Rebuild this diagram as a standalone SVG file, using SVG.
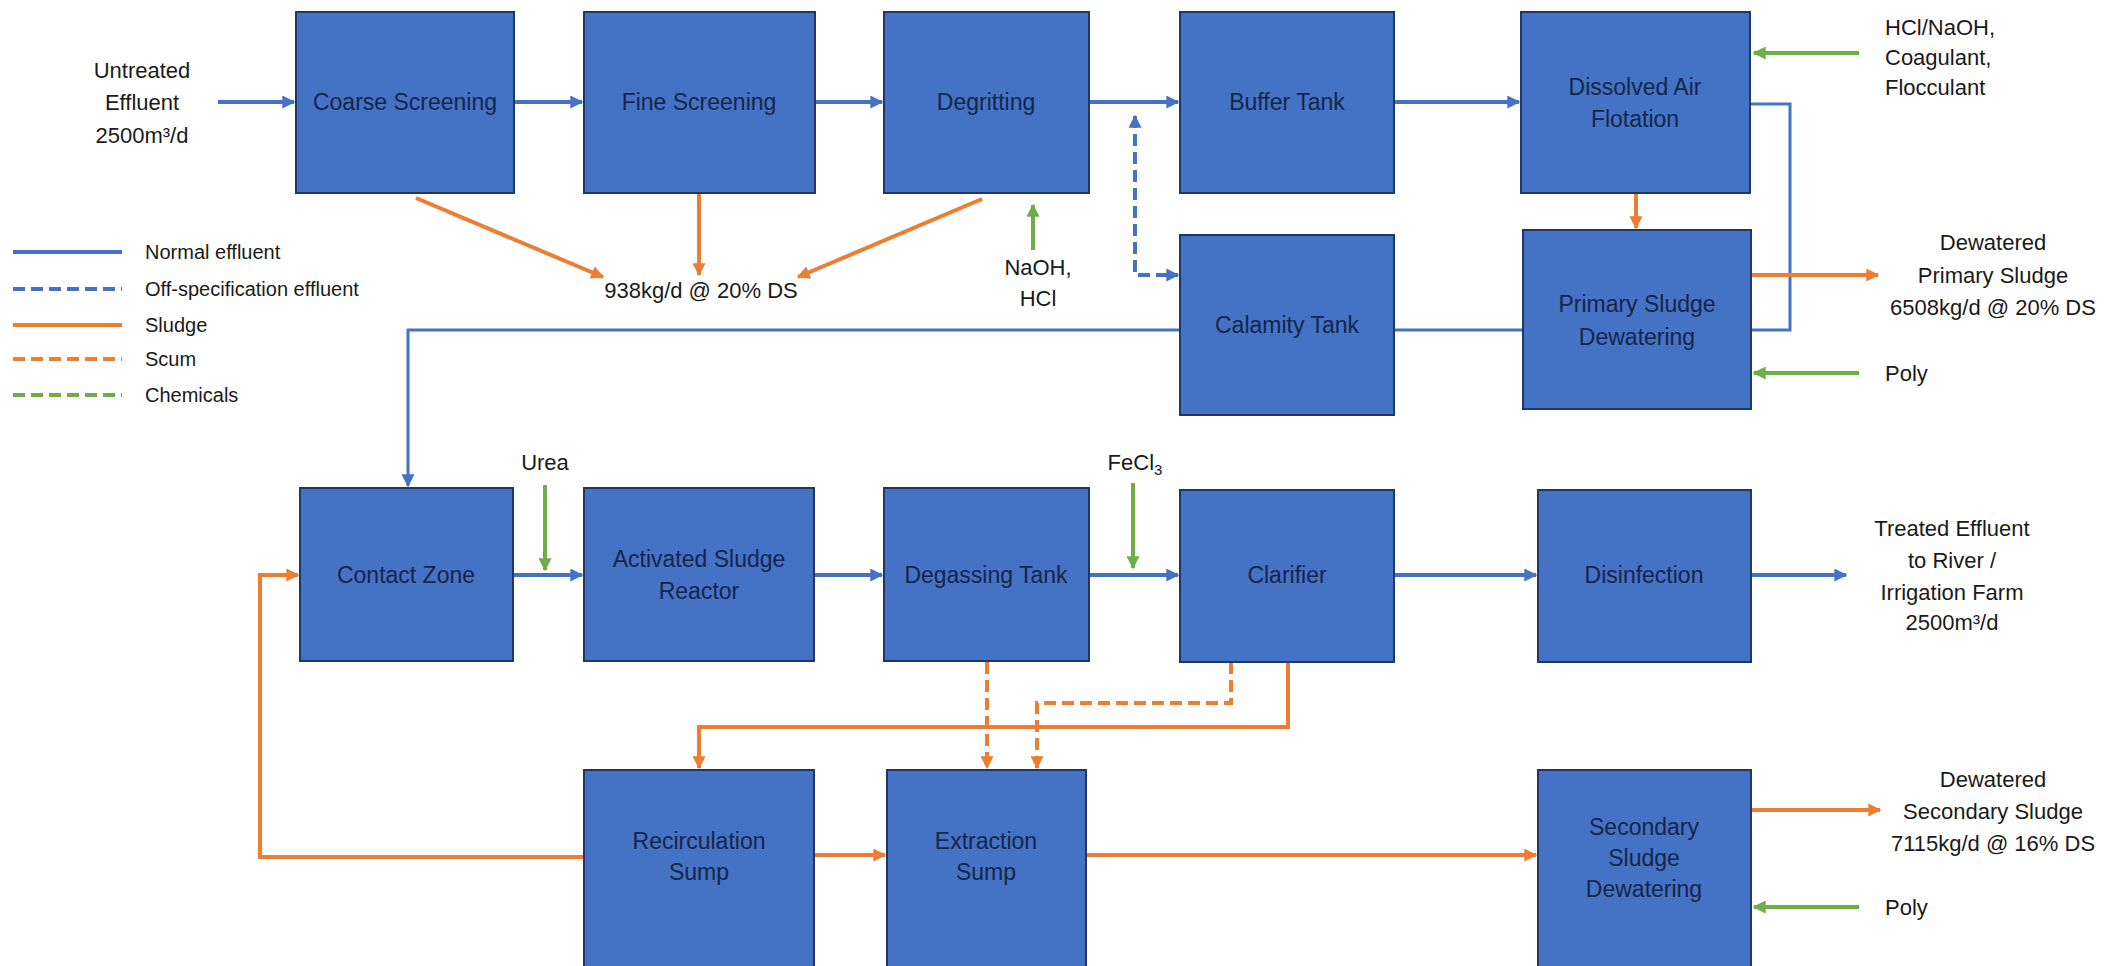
<svg xmlns="http://www.w3.org/2000/svg" width="2121" height="966" viewBox="0 0 2121 966">
<style>
.box{fill:#4472C4;stroke:#1F3763;stroke-width:2}
.bl{font-family:"Liberation Sans",Arial,sans-serif;font-size:23px;fill:#14264A;text-anchor:middle}
.lb{font-family:"Liberation Sans",Arial,sans-serif;font-size:22px;fill:#1a1a1a;text-anchor:middle}
.ll{font-family:"Liberation Sans",Arial,sans-serif;font-size:22px;fill:#1a1a1a}
.lg{font-family:"Liberation Sans",Arial,sans-serif;font-size:20px;fill:#1a1a1a}
.b{fill:none;stroke:#4472C4;stroke-width:4}
.bt{fill:none;stroke:#4472C4;stroke-width:3}
.o{fill:none;stroke:#ED7D31;stroke-width:4}
.g{fill:none;stroke:#70AD47;stroke-width:4}
.d{stroke-dasharray:12 6}
</style>
<defs>
<marker id="ab" viewBox="0 0 10 10" refX="9" refY="5" markerWidth="13" markerHeight="13" markerUnits="userSpaceOnUse" orient="auto-start-reverse"><path d="M0,0 L10,5 L0,10 z" fill="#4472C4"/></marker>
<marker id="ao" viewBox="0 0 10 10" refX="9" refY="5" markerWidth="13" markerHeight="13" markerUnits="userSpaceOnUse" orient="auto-start-reverse"><path d="M0,0 L10,5 L0,10 z" fill="#ED7D31"/></marker>
<marker id="ag" viewBox="0 0 10 10" refX="9" refY="5" markerWidth="13" markerHeight="13" markerUnits="userSpaceOnUse" orient="auto-start-reverse"><path d="M0,0 L10,5 L0,10 z" fill="#70AD47"/></marker>
</defs>
<rect width="2121" height="966" fill="#ffffff"/>
<g id="connectors">
<path class="b" d="M218,102 H294" marker-end="url(#ab)"/>
<path class="b" d="M514,102 H582" marker-end="url(#ab)"/>
<path class="b" d="M815,102 H882" marker-end="url(#ab)"/>
<path class="b" d="M1089,102 H1178" marker-end="url(#ab)"/>
<path class="b d" d="M1135,116 V275 H1178" marker-start="url(#ab)" marker-end="url(#ab)"/>
<path class="b" d="M1394,102 H1519" marker-end="url(#ab)"/>
<path class="bt" d="M1750,104 H1790 V330 H408 V486" marker-end="url(#ab)"/>
<path class="b" d="M513,575 H582" marker-end="url(#ab)"/>
<path class="b" d="M814,575 H882" marker-end="url(#ab)"/>
<path class="b" d="M1089,575 H1178" marker-end="url(#ab)"/>
<path class="b" d="M1394,575 H1536" marker-end="url(#ab)"/>
<path class="b" d="M1751,575 H1846" marker-end="url(#ab)"/>
<path class="o" d="M416,198 L603,277" marker-end="url(#ao)"/>
<path class="o" d="M699,193 V275" marker-end="url(#ao)"/>
<path class="o" d="M982,199 L798,277" marker-end="url(#ao)"/>
<path class="o" d="M1636,193 V228" marker-end="url(#ao)"/>
<path class="o" d="M1751,275 H1878" marker-end="url(#ao)"/>
<path class="o d" d="M987,662 V768" marker-end="url(#ao)"/>
<path class="o d" d="M1231,662 V703 H1037 V768" marker-end="url(#ao)"/>
<path class="o" d="M1288,662 V727 H699 V768" marker-end="url(#ao)"/>
<path class="o" d="M584,857 H260 V575 H298" marker-end="url(#ao)"/>
<path class="o" d="M814,855 H885" marker-end="url(#ao)"/>
<path class="o" d="M1086,855 H1536" marker-end="url(#ao)"/>
<path class="o" d="M1751,810 H1880" marker-end="url(#ao)"/>
<path class="g" d="M1033,250 V205" marker-end="url(#ag)"/>
<path class="g" d="M1859,53 H1754" marker-end="url(#ag)"/>
<path class="g" d="M1859,373 H1754" marker-end="url(#ag)"/>
<path class="g" d="M545,485 V570" marker-end="url(#ag)"/>
<path class="g" d="M1133,483 V568" marker-end="url(#ag)"/>
<path class="g" d="M1859,907 H1754" marker-end="url(#ag)"/>
</g>
<g id="coarse-screening"><rect class="box" x="296" y="12" width="218" height="181"/><text class="bl" x="405" y="110">Coarse Screening</text></g>
<g id="fine-screening"><rect class="box" x="584" y="12" width="231" height="181"/><text class="bl" x="699" y="110">Fine Screening</text></g>
<g id="degritting"><rect class="box" x="884" y="12" width="205" height="181"/><text class="bl" x="986" y="110">Degritting</text></g>
<g id="buffer-tank"><rect class="box" x="1180" y="12" width="214" height="181"/><text class="bl" x="1287" y="110">Buffer Tank</text></g>
<g id="dissolved-air-flotation"><rect class="box" x="1521" y="12" width="229" height="181"/><text class="bl" x="1635" y="95">Dissolved Air</text><text class="bl" x="1635" y="127">Flotation</text></g>
<g id="calamity-tank"><rect class="box" x="1180" y="235" width="214" height="180"/><text class="bl" x="1287" y="333">Calamity Tank</text></g>
<g id="primary-sludge-dewatering"><rect class="box" x="1523" y="230" width="228" height="179"/><text class="bl" x="1637" y="312">Primary Sludge</text><text class="bl" x="1637" y="345">Dewatering</text></g>
<g id="contact-zone"><rect class="box" x="300" y="488" width="213" height="173"/><text class="bl" x="406" y="583">Contact Zone</text></g>
<g id="activated-sludge-reactor"><rect class="box" x="584" y="488" width="230" height="173"/><text class="bl" x="699" y="567">Activated Sludge</text><text class="bl" x="699" y="599">Reactor</text></g>
<g id="degassing-tank"><rect class="box" x="884" y="488" width="205" height="173"/><text class="bl" x="986" y="583">Degassing Tank</text></g>
<g id="clarifier"><rect class="box" x="1180" y="490" width="214" height="172"/><text class="bl" x="1287" y="583">Clarifier</text></g>
<g id="disinfection"><rect class="box" x="1538" y="490" width="213" height="172"/><text class="bl" x="1644" y="583">Disinfection</text></g>
<g id="recirculation-sump"><rect class="box" x="584" y="770" width="230" height="206"/><text class="bl" x="699" y="849">Recirculation</text><text class="bl" x="699" y="880">Sump</text></g>
<g id="extraction-sump"><rect class="box" x="887" y="770" width="199" height="206"/><text class="bl" x="986" y="849">Extraction</text><text class="bl" x="986" y="880">Sump</text></g>
<g id="secondary-sludge-dewatering"><rect class="box" x="1538" y="770" width="213" height="206"/><text class="bl" x="1644" y="835">Secondary</text><text class="bl" x="1644" y="866">Sludge</text><text class="bl" x="1644" y="897">Dewatering</text></g>
<g id="labels">
<text class="lb" x="142" y="78">Untreated</text><text class="lb" x="142" y="110">Effluent</text><text class="lb" x="142" y="143">2500m³/d</text>
<text class="lb" x="701" y="298">938kg/d @ 20% DS</text>
<text class="lb" x="1038" y="275">NaOH,</text><text class="lb" x="1038" y="306">HCl</text>
<text class="ll" x="1885" y="35">HCl/NaOH,</text><text class="ll" x="1885" y="65">Coagulant,</text><text class="ll" x="1885" y="95">Flocculant</text>
<text class="lb" x="1993" y="250">Dewatered</text><text class="lb" x="1993" y="283">Primary Sludge</text><text class="lb" x="1993" y="315">6508kg/d @ 20% DS</text>
<text class="ll" x="1885" y="381">Poly</text>
<text class="lb" x="545" y="470">Urea</text>
<text class="lb" x="1135" y="470">FeCl<tspan font-size="15" dy="5">3</tspan></text>
<text class="lb" x="1952" y="536">Treated Effluent</text><text class="lb" x="1952" y="568">to River /</text><text class="lb" x="1952" y="600">Irrigation Farm</text><text class="lb" x="1952" y="630">2500m³/d</text>
<text class="lb" x="1993" y="787">Dewatered</text><text class="lb" x="1993" y="819">Secondary Sludge</text><text class="lb" x="1993" y="851">7115kg/d @ 16% DS</text>
<text class="ll" x="1885" y="915">Poly</text>
</g>
<g id="legend">
<line class="b" x1="13" y1="252" x2="122" y2="252"/><text class="lg" x="145" y="259">Normal effluent</text>
<line class="b d" x1="13" y1="289" x2="122" y2="289"/><text class="lg" x="145" y="296">Off-specification effluent</text>
<line class="o" x1="13" y1="325" x2="122" y2="325"/><text class="lg" x="145" y="332">Sludge</text>
<line class="o d" x1="13" y1="359" x2="122" y2="359"/><text class="lg" x="145" y="366">Scum</text>
<line class="g d" x1="13" y1="395" x2="122" y2="395"/><text class="lg" x="145" y="402">Chemicals</text>
</g>
</svg>
